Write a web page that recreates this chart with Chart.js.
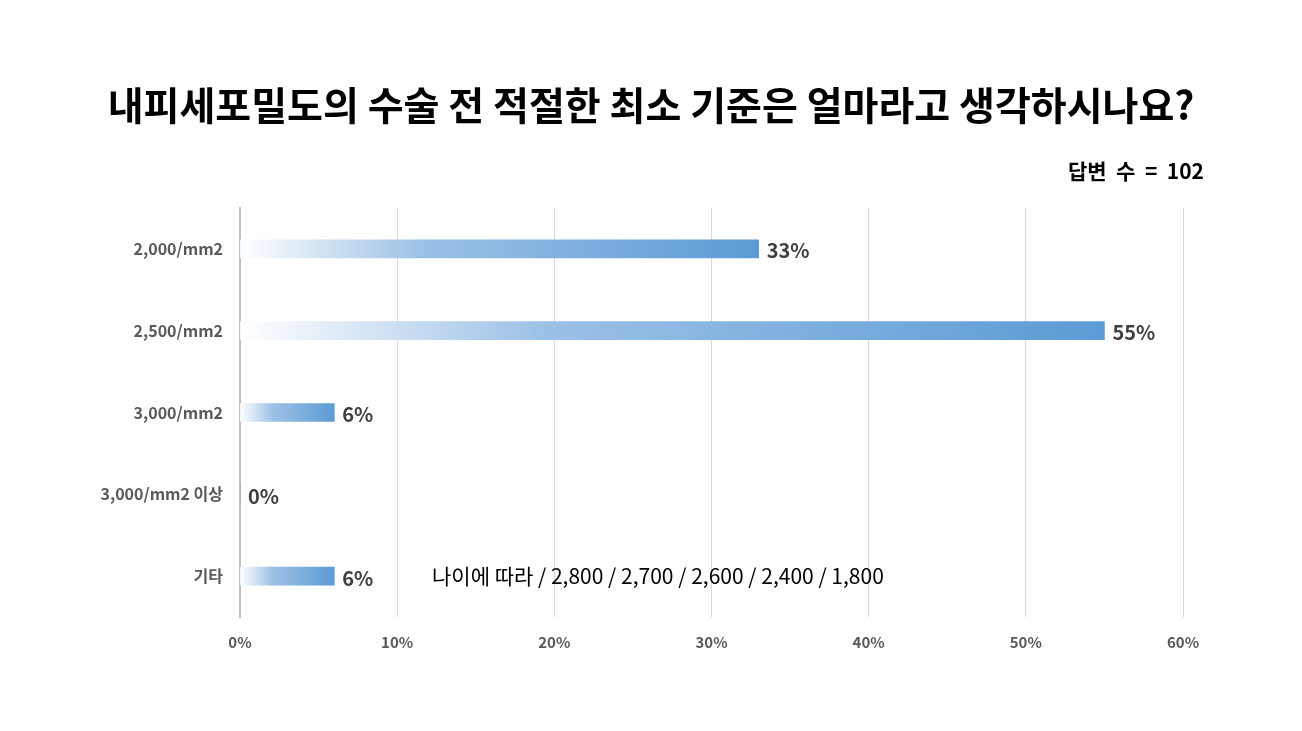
<!DOCTYPE html>
<html><head><meta charset="utf-8">
<script src="https://cdn.jsdelivr.net/npm/chart.js@4"></script>
<style>body{margin:0;background:#fff}canvas{display:block}</style>
</head><body>
<canvas id="c" width="1302" height="731"></canvas>
<script>
const categories = ["2,000/mm2", "2,500/mm2", "3,000/mm2", "3,000/mm2 이상", "기타"];
const values = [33, 55, 6, 0, 6];
const xTicks = [0, 10, 20, 30, 40, 50, 60];
const title = "내피세포밀도의 수술 전 적절한 최소 기준은 얼마라고 생각하시나요?";
const subtitle = "답변  수  =  102";
const note = "나이에 따라 / 2,800 / 2,700 / 2,600 / 2,400 / 1,800";
const FONT = "'Noto Sans CJK KR', 'Noto Sans', sans-serif";

function barGradient(context) {
  const chart = context.chart;
  const xs = chart.scales.x;
  if (!xs || !chart.chartArea) return "#5b9bd5";
  const v = context.parsed ? context.parsed.x : values[context.dataIndex];
  const x0 = xs.getPixelForValue(0), x1 = xs.getPixelForValue(v);
  if (x1 - x0 < 1) return "#5b9bd5";
  const g = chart.ctx.createLinearGradient(x0, 0, x1, 0);
  g.addColorStop(0, "rgba(255,255,255,1)");
  g.addColorStop(0.35, "#9cc1e6");
  g.addColorStop(1, "#5b9bd5");
  return g;
}

const textPlugin = {
  id: "texts",
  afterDraw(chart) {
    const ctx = chart.ctx;
    ctx.save();
    ctx.fillStyle = "#000";
    ctx.textBaseline = "middle";
    ctx.font = "bold 39px " + FONT;
    ctx.textAlign = "center";
    ctx.fillText(title, 651, 105);
    ctx.font = "bold 21px " + FONT;
    ctx.textAlign = "right";
    ctx.fillText(subtitle, 1204, 171);
    ctx.font = "21px " + FONT;
    ctx.textAlign = "left";
    ctx.fillText(note, 432, 576);
    const meta = chart.getDatasetMeta(0);
    ctx.font = "bold 20px " + FONT;
    ctx.fillStyle = "#404040";
    meta.data.forEach((el, i) => {
      ctx.fillText(values[i] + "%", el.x + 8, el.y + 2);
    });
    ctx.restore();
  }
};

new Chart(document.getElementById("c"), {
  type: "bar",
  data: {
    labels: categories,
    datasets: [{ data: values, backgroundColor: barGradient, barThickness: 18, borderWidth: 0 }]
  },
  options: {
    indexAxis: "y",
    responsive: false,
    animation: false,
    layout: { padding: { top: 208, right: 119, left: 0, bottom: 0 } },
    plugins: { legend: { display: false }, tooltip: { enabled: false } },
    scales: {
      x: {
        min: 0, max: 60,
        afterBuildTicks(s) { s.ticks = xTicks.map(v => ({ value: v })); },
        afterFit(s) { s.height = 114; },
        grid: { color: "#d9d9d9", drawTicks: false },
        border: { display: false },
        ticks: { padding: 16, color: "#595959", font: { family: FONT, size: 15, weight: "bold" }, callback: v => v + "%" }
      },
      y: {
        afterFit(s) { s.width = 240; },
        grid: { display: false },
        border: { color: "#bfbfbf", width: 2 },
        ticks: { padding: 9, color: "#595959", font: { family: FONT, size: 16, weight: "bold" } }
      }
    }
  },
  plugins: [textPlugin]
});
</script>
</body></html>
